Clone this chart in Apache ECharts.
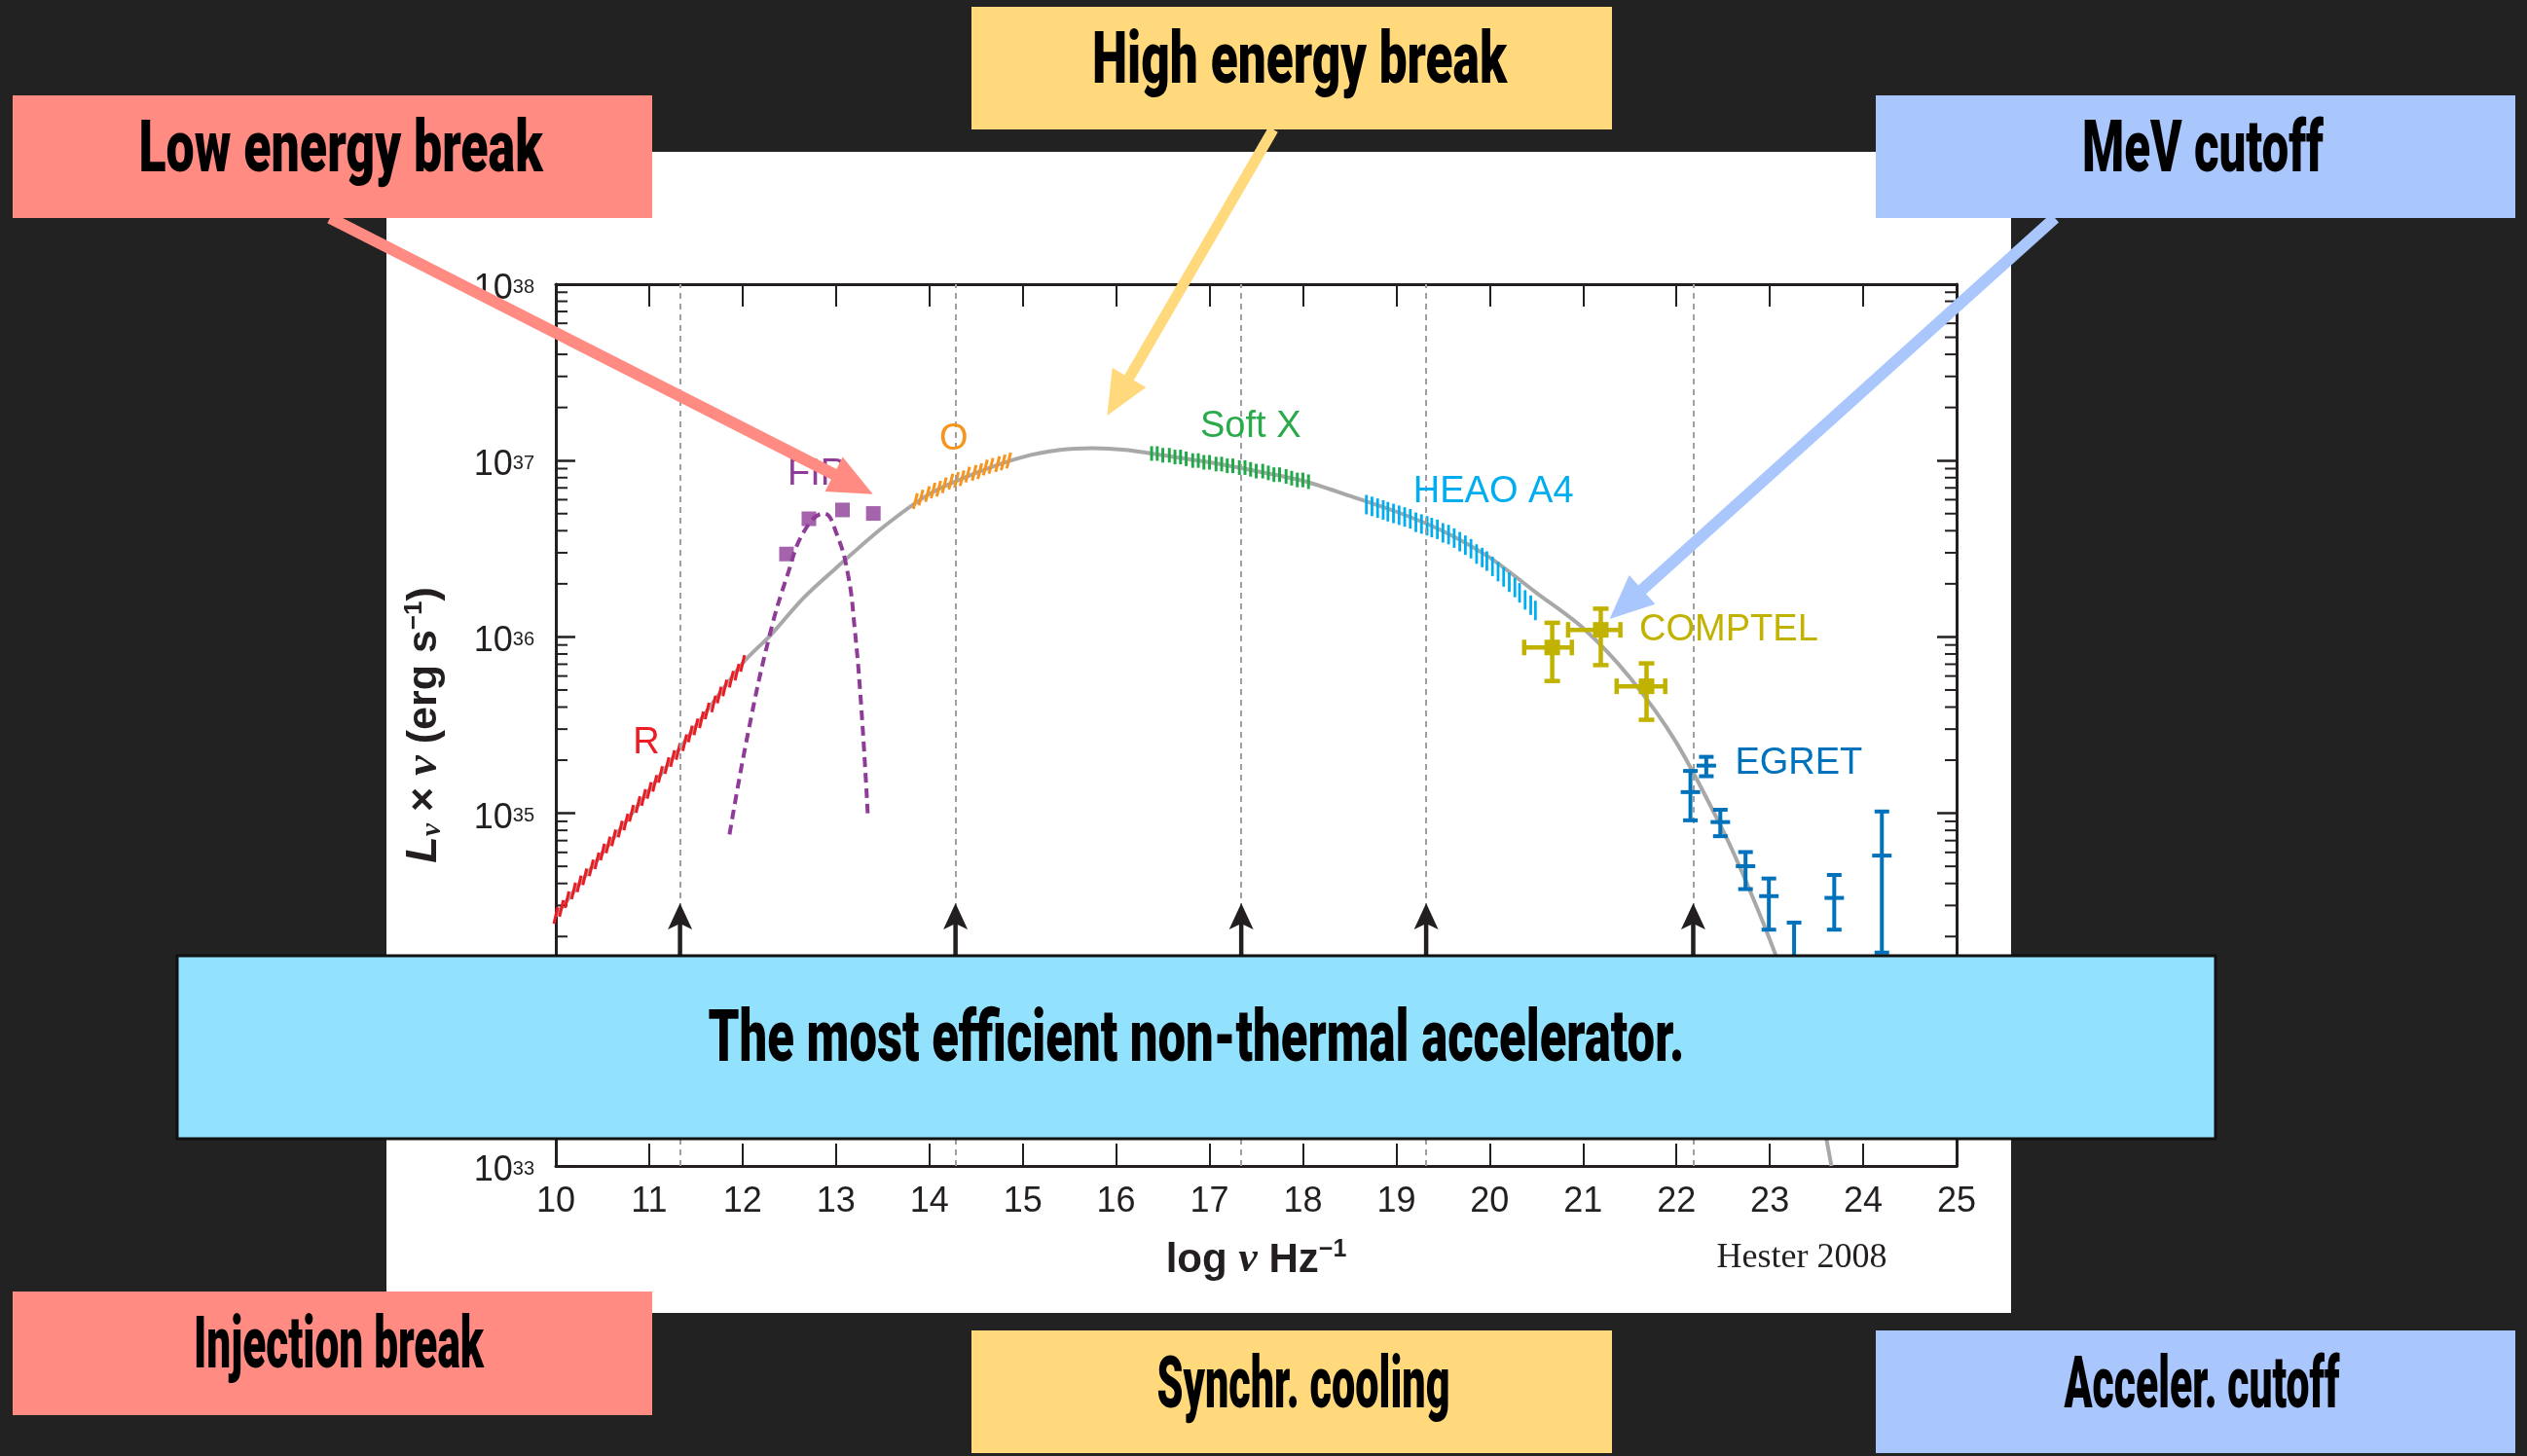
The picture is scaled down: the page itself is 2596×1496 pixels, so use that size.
<!DOCTYPE html>
<html>
<head>
<meta charset="utf-8">
<script src="https://cdn.jsdelivr.net/npm/echarts@6/dist/echarts.min.js"></script>
<style>
html,body{margin:0;padding:0;background:#222222;}
#c{width:2596px;height:1496px;}
</style>
</head>
<body>
<div id="c"></div>
<script>
// ---------------- DATA (x = log nu [Hz], y = log (L_nu * nu) [erg/s]) ----------------
const xTickMin = 10, xTickMax = 25;
const yExpMin = 33, yExpMax = 38;
const minorMult = [2, 3, 4, 5, 6, 7, 8, 9];

// grey model spectrum
const curveX = [10.00, 11.00, 12.00, 12.30, 12.65, 13.00, 13.50, 14.00, 14.50, 15.00, 15.40, 15.75, 16.10, 16.50, 17.00, 17.50, 18.00, 18.50, 19.00, 19.50, 20.00, 20.50, 21.00, 21.50, 22.00, 22.50, 22.78, 23.06, 23.30, 23.50, 23.66];
const curveY = [34.42, 35.13, 35.85, 36.01, 36.22, 36.39, 36.62, 36.81, 36.93, 37.02, 37.06, 37.07, 37.06, 37.03, 36.99, 36.94, 36.885, 36.80, 36.71, 36.60, 36.45, 36.25, 36.05, 35.77, 35.40, 34.90, 34.57, 34.20, 33.83, 33.43, 33.00];

// R (radio) hatch
const rX = [10.00,10.06,10.12,10.19,10.25,10.31,10.38,10.44,10.50,10.56,10.62,10.69,10.75,10.81,10.88,10.94,11.00,11.06,11.12,11.19,11.25,11.31,11.38,11.44,11.50,11.56,11.62,11.69,11.75,11.81,11.88,11.94,12.00];
const rY = [34.42,34.46,34.51,34.56,34.60,34.64,34.69,34.73,34.78,34.82,34.86,34.91,34.95,35.00,35.05,35.09,35.13,35.17,35.22,35.27,35.31,35.35,35.40,35.45,35.49,35.53,35.58,35.62,35.67,35.71,35.76,35.80,35.85];

// FIR
const firX = [12.47, 12.71, 13.07, 13.40];
const firY = [36.47, 36.67, 36.72, 36.70];
const firCurveX = [11.86, 12.06, 12.29, 12.48, 12.66, 12.87, 13.01, 13.13, 13.20, 13.27, 13.34];
const firCurveY = [34.88, 35.46, 36.01, 36.35, 36.60, 36.70, 36.58, 36.35, 36.05, 35.61, 35.00];

// O (optical) hatch
const oX = [13.85,13.91,13.98,14.04,14.10,14.16,14.23,14.29,14.35,14.41,14.48,14.54,14.60,14.66,14.73,14.79,14.85];
const oY = [36.77,36.79,36.81,36.83,36.84,36.86,36.88,36.89,36.90,36.92,36.93,36.94,36.96,36.97,36.98,36.99,37.00];

// Soft X hatch
const sxX = [16.38,16.44,16.50,16.57,16.63,16.69,16.75,16.82,16.88,16.94,17.00,17.07,17.13,17.19,17.25,17.32,17.38,17.44,17.50,17.57,17.63,17.69,17.75,17.82,17.88,17.94,18.00,18.06];
const sxY = [37.04,37.04,37.03,37.03,37.02,37.02,37.01,37.00,37.00,36.99,36.99,36.98,36.98,36.97,36.97,36.96,36.96,36.95,36.94,36.94,36.93,36.92,36.92,36.91,36.90,36.89,36.89,36.88];

// HEAO A4 hatch
const heX = [18.68,18.74,18.80,18.86,18.91,18.97,19.03,19.09,19.15,19.21,19.27,19.33,19.38,19.44,19.50,19.56,19.62,19.68,19.74,19.80,19.86,19.92,19.97,20.03,20.09,20.15,20.21,20.27,20.32,20.38,20.44,20.49];
const heY = [36.75,36.74,36.73,36.72,36.71,36.70,36.69,36.68,36.67,36.65,36.64,36.63,36.62,36.61,36.59,36.58,36.56,36.54,36.52,36.50,36.47,36.45,36.43,36.40,36.37,36.34,36.31,36.28,36.25,36.21,36.18,36.15];

// COMPTEL
const cX   = [20.67, 21.19, 21.68];
const cY   = [35.94, 36.04, 35.72];
const cXlo = [20.37, 20.84, 21.36];
const cXhi = [20.88, 21.40, 21.88];
const cYlo = [35.75, 35.84, 35.53];
const cYhi = [36.08, 36.16, 35.85];

// EGRET
const eX  = [22.15, 22.32, 22.47, 22.74, 22.99, 23.26, 23.69, 24.20];
const eY  = [35.12, 35.27, 34.95, 34.70, 34.53, 34.10, 34.52, 34.76];
const eLo = [34.96, 35.21, 34.87, 34.57, 34.34, 33.85, 34.34, 34.21];
const eHi = [35.24, 35.32, 35.02, 34.78, 34.63, 34.38, 34.65, 35.01];

// break markers (dotted lines + arrows)
const markerX = [11.33, 14.28, 17.34, 19.32, 22.18];
const arrowTipY = 34.49;
const arrowTailY = 33.90;

// in-plot labels
const labelText  = ['R', 'FIR', 'O', 'Soft X', 'HEAO A4', 'COMPTEL', 'EGRET'];
const labelX     = [10.97, 12.80, 14.26, 17.44, 20.04, 22.56, 23.31];
const labelY     = [35.40, 36.92, 37.12, 37.19, 36.82, 36.04, 35.28];
const labelColor = ['#ED1C24', '#8E3C97', '#F7941D', '#2AAA4A', '#00AEEF', '#C2B200', '#0072BC'];

// ---------------- STYLE ----------------
const AX = '#231F20';
const SANS = '"Liberation Sans", Arial, Helvetica, sans-serif';
const SERIF = '"Liberation Serif", "Times New Roman", serif';
const BOXFONT = '900 74px Roboto, "Liberation Sans", sans-serif';

const chart = echarts.init(document.getElementById('c'), null, {renderer: 'canvas', width: 2596, height: 1496});

const mctx = document.createElement('canvas').getContext('2d');
function fitScale(text, target) {
  mctx.font = BOXFONT;
  return target / mctx.measureText(text).width;
}

function bandSeries(name, xs, ys, color, half, shear, lw) {
  return {
    type: 'custom', name: name, z: 4, clip: false, silent: true,
    data: xs.map((x, i) => [x, ys[i]]),
    encode: {x: 0, y: 1},
    renderItem: function (params, api) {
      const p = api.coord([api.value(0), api.value(1)]);
      return {type: 'line', shape: {x1: p[0] - shear, y1: p[1] + half, x2: p[0] + shear, y2: p[1] - half},
              style: {stroke: color, lineWidth: lw}};
    }
  };
}

const minorVals = [];
for (let n = yExpMin; n < yExpMax; n++) for (const k of minorMult) minorVals.push(n + Math.log10(k));

const cCol = '#C2B200';
const eCol = '#0072BC';

const series = [
  {
    type: 'line', name: 'model', data: curveX.map((x, i) => [x, curveY[i]]),
    smooth: 0.3, symbol: 'none', z: 2, silent: true,
    lineStyle: {color: '#A8A8A8', width: 4},
    markLine: {
      silent: true, symbol: ['none', 'none'], label: {show: false},
      lineStyle: {color: '#9F9F9F', width: 2, type: [6, 5]},
      emphasis: {disabled: true},
      data: markerX.map(x => ({xAxis: x}))
    }
  },
  {
    type: 'custom', name: 'minor ticks', z: 3, clip: false, silent: true,
    data: minorVals.map(v => [xTickMin, v]), encode: {x: 0, y: 1},
    renderItem: function (params, api) {
      const a = api.coord([xTickMin, api.value(1)]);
      const b = api.coord([xTickMax, api.value(1)]);
      return {type: 'group', children: [
        {type: 'line', shape: {x1: a[0], y1: a[1], x2: a[0] + 12, y2: a[1]}, style: {stroke: AX, lineWidth: 2}},
        {type: 'line', shape: {x1: b[0] - 12, y1: b[1], x2: b[0], y2: b[1]}, style: {stroke: AX, lineWidth: 2}}
      ]};
    }
  },
  bandSeries('R', rX, rY, '#ED1C24', 8.5, 2, 3),
  bandSeries('O', oX, oY, '#F7941D', 8, 2, 3),
  bandSeries('Soft X', sxX, sxY, '#22A94A', 7.5, 0, 3),
  bandSeries('HEAO A4', heX, heY, '#00AEEF', 10, 0, 2.8),
  {
    type: 'line', name: 'FIR model', data: firCurveX.map((x, i) => [x, firCurveY[i]]),
    smooth: 0.45, symbol: 'none', z: 4, silent: true,
    lineStyle: {color: '#8E3C97', width: 4, type: [10, 6]}
  },
  {
    type: 'scatter', name: 'FIR', data: firX.map((x, i) => [x, firY[i]]),
    symbol: 'rect', symbolSize: 15, z: 5, silent: true,
    itemStyle: {color: '#8E3C97'}
  },
  {
    type: 'custom', name: 'COMPTEL', z: 5, clip: false, silent: true,
    data: cX.map((x, i) => [x, cY[i], cXlo[i], cXhi[i], cYlo[i], cYhi[i]]),
    encode: {x: 0, y: 1},
    renderItem: function (params, api) {
      const c = api.coord([api.value(0), api.value(1)]);
      const l = api.coord([api.value(2), api.value(1)]);
      const r = api.coord([api.value(3), api.value(1)]);
      const b = api.coord([api.value(0), api.value(4)]);
      const t = api.coord([api.value(0), api.value(5)]);
      const st = {stroke: cCol, lineWidth: 4.5};
      return {type: 'group', children: [
        {type: 'line', shape: {x1: l[0], y1: c[1], x2: r[0], y2: c[1]}, style: st},
        {type: 'line', shape: {x1: c[0], y1: t[1], x2: c[0], y2: b[1]}, style: st},
        {type: 'line', shape: {x1: l[0], y1: c[1] - 8, x2: l[0], y2: c[1] + 8}, style: st},
        {type: 'line', shape: {x1: r[0], y1: c[1] - 8, x2: r[0], y2: c[1] + 8}, style: st},
        {type: 'line', shape: {x1: c[0] - 8, y1: t[1], x2: c[0] + 8, y2: t[1]}, style: st},
        {type: 'line', shape: {x1: c[0] - 8, y1: b[1], x2: c[0] + 8, y2: b[1]}, style: st},
        {type: 'rect', shape: {x: c[0] - 8, y: c[1] - 8, width: 16, height: 16}, style: {fill: cCol}}
      ]};
    }
  },
  {
    type: 'custom', name: 'EGRET', z: 5, clip: false, silent: true,
    data: eX.map((x, i) => [x, eY[i], eLo[i], eHi[i]]),
    encode: {x: 0, y: 1},
    renderItem: function (params, api) {
      const c = api.coord([api.value(0), api.value(1)]);
      const b = api.coord([api.value(0), api.value(2)]);
      const t = api.coord([api.value(0), api.value(3)]);
      const st = {stroke: eCol, lineWidth: 4};
      return {type: 'group', children: [
        {type: 'line', shape: {x1: c[0], y1: t[1], x2: c[0], y2: b[1]}, style: st},
        {type: 'line', shape: {x1: c[0] - 7.5, y1: t[1], x2: c[0] + 7.5, y2: t[1]}, style: st},
        {type: 'line', shape: {x1: c[0] - 7.5, y1: b[1], x2: c[0] + 7.5, y2: b[1]}, style: st},
        {type: 'line', shape: {x1: c[0] - 10, y1: c[1], x2: c[0] + 10, y2: c[1]}, style: st}
      ]};
    }
  },
  {
    type: 'custom', name: 'break arrows', z: 5, clip: false, silent: true,
    data: markerX.map(x => [x, arrowTipY, arrowTailY]),
    encode: {x: 0, y: 1},
    renderItem: function (params, api) {
      const tip = api.coord([api.value(0), api.value(1)]);
      const tail = api.coord([api.value(0), api.value(2)]);
      return {type: 'group', children: [
        {type: 'line', shape: {x1: tip[0], y1: tail[1], x2: tip[0], y2: tip[1] + 20}, style: {stroke: AX, lineWidth: 4.5}},
        {type: 'polygon', shape: {points: [[tip[0], tip[1]], [tip[0] - 12.5, tip[1] + 27], [tip[0], tip[1] + 21], [tip[0] + 12.5, tip[1] + 27]]}, style: {fill: AX}}
      ]};
    }
  },
  {
    type: 'custom', name: 'labels', z: 6, clip: false, silent: true,
    data: labelX.map((x, i) => [x, labelY[i]]),
    encode: {x: 0, y: 1},
    renderItem: function (params, api) {
      const p = api.coord([api.value(0), api.value(1)]);
      const i = params.dataIndex;
      return {type: 'text', x: p[0], y: p[1], style: {
        text: labelText[i], fill: labelColor[i], font: '38px ' + SANS,
        align: 'center', verticalAlign: 'middle', textAlign: 'center', textVerticalAlign: 'middle'}};
    }
  }
];

const axisLineStyle = {color: AX, width: 3};
const xCommon = {
  type: 'value', min: xTickMin, max: xTickMax, interval: 1,
  axisLine: {show: true, onZero: false, lineStyle: axisLineStyle},
  axisTick: {show: true, inside: true, length: 23, lineStyle: {color: AX, width: 2}},
  splitLine: {show: false}
};
const yCommon = {
  type: 'value', min: yExpMin, max: yExpMax, interval: 1,
  axisLine: {show: true, onZero: false, lineStyle: axisLineStyle},
  axisTick: {show: true, inside: true, length: 20, lineStyle: {color: AX, width: 2.5}},
  splitLine: {show: false}
};

function txt(text, cx, cy, target) {
  return {type: 'text', x: cx, y: cy, scaleX: fitScale(text, target), z: 120,
    style: {text: text, font: BOXFONT, fill: '#000000', align: 'center', verticalAlign: 'middle', textAlign: 'center', textVerticalAlign: 'middle'}};
}
function box(x, y, w, h, color, extra) {
  return Object.assign({type: 'rect', shape: {x: x, y: y, width: w, height: h}, style: {fill: color}, z: 115}, extra || {});
}
function arrow(x1, y1, x2, y2, color, w, hl, hw) {
  const dx = x2 - x1, dy = y2 - y1, L = Math.hypot(dx, dy), ux = dx / L, uy = dy / L;
  const bx = x2 - ux * hl, by = y2 - uy * hl;
  return [
    {type: 'line', shape: {x1: x1, y1: y1, x2: bx + ux * 3, y2: by + uy * 3}, style: {stroke: color, lineWidth: w}, z: 110},
    {type: 'polygon', shape: {points: [[x2, y2], [bx - uy * hw / 2, by + ux * hw / 2], [bx + uy * hw / 2, by - ux * hw / 2]]}, style: {fill: color}, z: 110}
  ];
}

const SAL = '#FF8B82', YEL = '#FFD97B', BLU = '#A9C7FD', CYA = '#93E2FD';

const graphic = [
  {type: 'rect', shape: {x: 397, y: 156, width: 1669, height: 1193}, style: {fill: '#FFFFFF'}, z: -10},
  {type: 'text', x: 1851, y: 1293, z: 6, style: {text: 'Hester 2008', font: '36px ' + SERIF, fill: AX,
    align: 'center', verticalAlign: 'middle', textAlign: 'center', textVerticalAlign: 'middle'}},
  // central banner
  box(182, 982, 2094, 188, CYA, {style: {fill: CYA, stroke: '#111111', lineWidth: 3}, z: 105}),
  txt('The most efficient non-thermal accelerator.', 1229, 1071, 1003),
  // arrows
  ...arrow(339, 224, 896.7, 507.7, SAL, 12, 45, 40),
  ...arrow(1308, 133, 1137.4, 427, YEL, 11, 45, 40),
  ...arrow(2111, 224, 1653.6, 636, BLU, 12, 45, 40),
  // top boxes
  box(13, 98, 657, 126, SAL), txt('Low energy break', 350, 157, 415),
  box(998, 7, 658, 126, YEL), txt('High energy break', 1335, 66, 426),
  box(1927, 98, 657, 126, BLU), txt('MeV cutoff', 2263, 157, 248),
  // bottom boxes
  box(13, 1327, 657, 127, SAL), txt('Injection break', 348, 1386, 298),
  box(998, 1367, 658, 126, YEL), txt('Synchr. cooling', 1339, 1427, 301),
  box(1927, 1367, 657, 126, BLU), txt('Acceler. cutoff', 2262, 1427, 283)
];

const option = {
  backgroundColor: '#222222',
  animation: false,
  textStyle: {fontFamily: SANS},
  grid: {left: 571, top: 292, width: 1439, height: 906, containLabel: false},
  xAxis: [
    Object.assign({}, xCommon, {
      position: 'bottom',
      axisLabel: {show: true, color: AX, fontSize: 36, fontFamily: SANS, margin: 19, lineHeight: 36},
      name: 'log {nu|ν} Hz{sup|−1}', nameLocation: 'middle', nameGap: 74,
      nameTextStyle: {
        color: AX, fontSize: 42, fontWeight: 'bold', fontFamily: SANS, lineHeight: 46,
        rich: {
          nu: {color: AX, fontSize: 44, fontWeight: 'bold', fontStyle: 'italic', fontFamily: SERIF, lineHeight: 46},
          sup: {color: AX, fontSize: 25, fontWeight: 'bold', fontFamily: SANS, lineHeight: 25, verticalAlign: 'top'}
        }
      }
    }),
    Object.assign({}, xCommon, {position: 'top', axisLabel: {show: false}})
  ],
  yAxis: [
    Object.assign({}, yCommon, {
      position: 'left',
      axisLabel: {
        show: true, margin: 22,
        formatter: v => '{b|10}{s|' + v + '}',
        rich: {
          b: {color: AX, fontSize: 36, fontFamily: SANS, lineHeight: 36, padding: [10, 0, 0, 0]},
          s: {color: AX, fontSize: 20, fontFamily: SANS, lineHeight: 20, verticalAlign: 'top', padding: [11, 0, 0, 0]}
        }
      },
      name: '{L|L}{sub|ν} × {nu|ν} (erg s{sup|−1})', nameLocation: 'middle', nameRotate: 90, nameGap: 112,
      nameTextStyle: {
        color: AX, fontSize: 43, fontWeight: 'bold', fontFamily: SANS, lineHeight: 46,
        rich: {
          L: {color: AX, fontSize: 45, fontWeight: 'bold', fontStyle: 'italic', fontFamily: SANS, lineHeight: 46},
          sub: {color: AX, fontSize: 30, fontWeight: 'bold', fontStyle: 'italic', fontFamily: SERIF, lineHeight: 30, verticalAlign: 'bottom'},
          nu: {color: AX, fontSize: 47, fontWeight: 'bold', fontStyle: 'italic', fontFamily: SERIF, lineHeight: 46},
          sup: {color: AX, fontSize: 26, fontWeight: 'bold', fontFamily: SANS, lineHeight: 26, verticalAlign: 'top'}
        }
      }
    }),
    Object.assign({}, yCommon, {position: 'right', axisLabel: {show: false}})
  ],
  series: series,
  graphic: graphic
};

chart.setOption(option);
</script>
</body>
</html>
